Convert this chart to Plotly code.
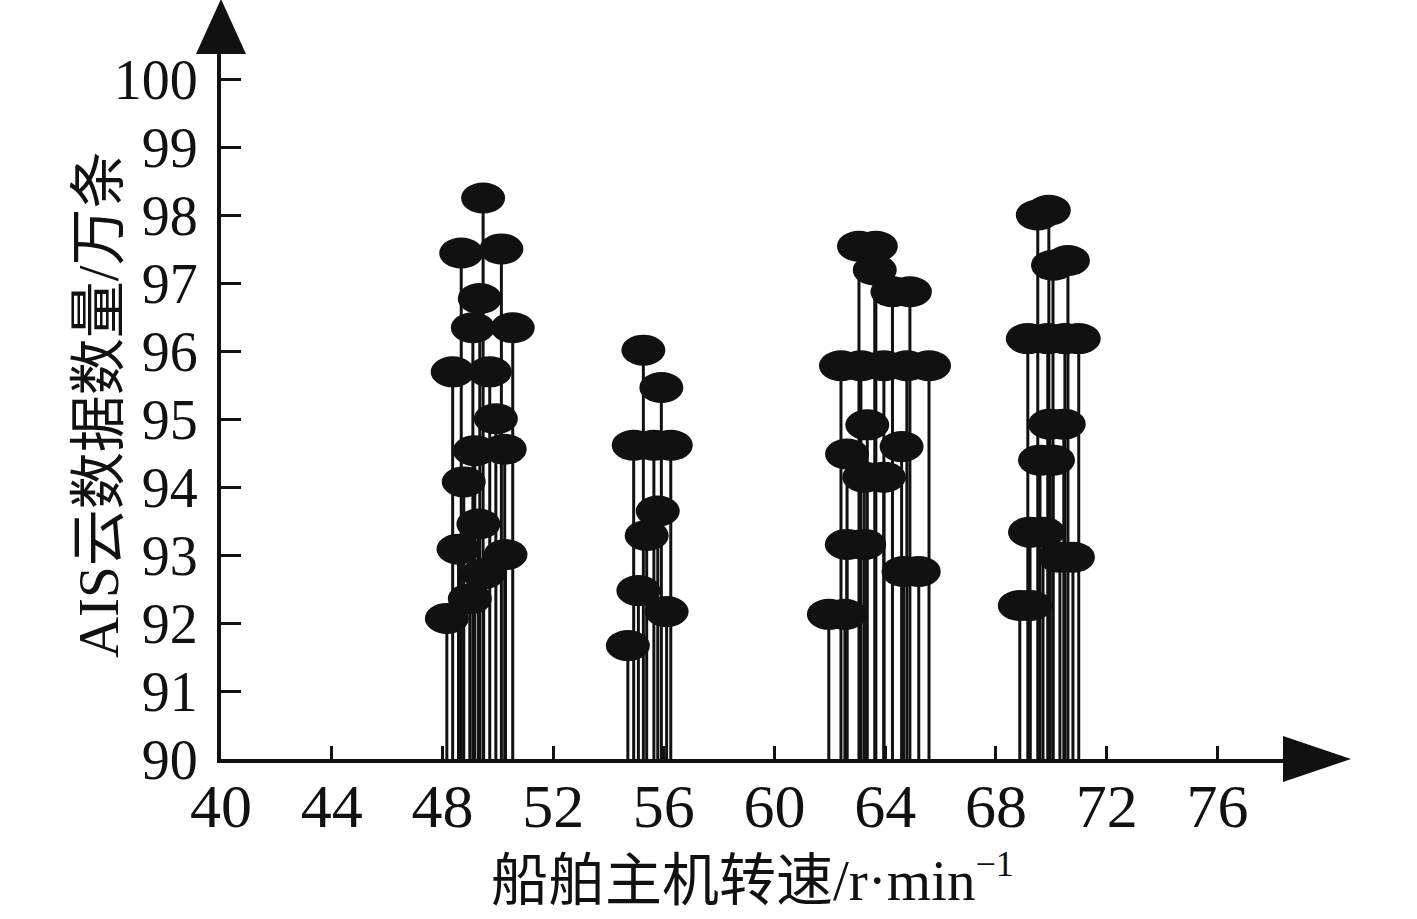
import plotly.graph_objects as go

# main engine speed (r/min) and AIS cloud record count (10k records)
speed_a = [49.47, 48.68, 50.13, 49.35, 49.10, 50.54, 48.37, 49.71, 49.93, 49.17,
           50.25, 48.77, 49.30, 48.58, 50.28, 49.49, 48.99, 48.16]
count_a = [98.26, 97.45, 97.51, 96.78, 96.35, 96.35, 95.70, 95.70, 95.01, 94.54,
           94.56, 94.08, 93.46, 93.09, 93.01, 92.73, 92.36, 92.07]

speed_b = [55.26, 55.91, 54.91, 55.64, 56.25, 55.78, 55.38, 55.08, 56.10, 54.70]
count_b = [96.02, 95.47, 94.62, 94.62, 94.62, 93.65, 93.29, 92.48, 92.17, 91.67]

speed_c = [63.05, 63.66, 63.62, 64.26, 64.89, 62.40, 63.12, 63.95, 64.78, 65.58,
           63.35, 62.62, 64.59, 63.24, 63.95, 62.61, 63.24, 64.66, 65.21, 61.96, 62.54]
count_c = [97.55, 97.55, 97.20, 96.88, 96.88, 95.79, 95.79, 95.79, 95.79, 95.79,
           94.92, 94.49, 94.60, 94.15, 94.15, 93.16, 93.16, 92.76, 92.76, 92.13, 92.13]

speed_d = [69.51, 69.91, 70.06, 70.60, 69.15, 69.87, 70.49, 70.99, 69.95, 70.45,
           69.59, 70.06, 69.23, 69.70, 70.31, 70.78, 68.86, 69.23]
count_d = [98.01, 98.08, 97.27, 97.34, 96.19, 96.19, 96.19, 96.19, 94.93, 94.93,
           94.40, 94.40, 93.34, 93.34, 92.97, 92.97, 92.26, 92.26]

x_ticks = [40, 44, 48, 52, 56, 60, 64, 68, 72, 76]
y_ticks = [90, 91, 92, 93, 94, 95, 96, 97, 98, 99, 100]

speed = speed_a + speed_b + speed_c + speed_d
count = count_a + count_b + count_c + count_d

ink = "#111111"
serif = "Liberation Serif, Noto Sans CJK SC"

fig = go.Figure()

# stems from the x axis up to each point
sx, sy = [], []
for x, y in zip(speed, count):
    sx += [x, x, None]
    sy += [90, y, None]
fig.add_trace(go.Scatter(x=sx, y=sy, mode="lines", line=dict(color=ink, width=3),
                         hoverinfo="skip", showlegend=False))

# elliptical markers, sized in pixels, anchored at the data point
shapes = []
for x, y in zip(speed, count):
    shapes.append(dict(type="circle", xref="x", yref="y",
                       xsizemode="pixel", ysizemode="pixel",
                       xanchor=x, yanchor=y, x0=-22, x1=22, y0=-15.5, y1=15.5,
                       fillcolor=ink, line=dict(width=0)))

# arrow heads at the ends of both axes
shapes.append(dict(type="path", xref="paper", yref="paper",
                   xsizemode="pixel", ysizemode="pixel", xanchor=0, yanchor=1,
                   path="M -25,0 L 25,0 L 0,55 Z", fillcolor=ink, line=dict(width=0)))
shapes.append(dict(type="path", xref="paper", yref="paper",
                   xsizemode="pixel", ysizemode="pixel", xanchor=1, yanchor=0,
                   path="M 0,-23 L 0,23 L 68,0 Z", fillcolor=ink, line=dict(width=0)))

fig.update_xaxes(range=[40, 78.37], tickvals=x_ticks, ticks="inside", ticklen=13, tickwidth=3,
                 tickcolor=ink, showline=True, linewidth=4, linecolor=ink,
                 showgrid=False, zeroline=False, ticklabelstandoff=-10,
                 tickfont=dict(family=serif, size=62, color=ink))
fig.update_yaxes(range=[90, 100.38], tickvals=y_ticks, ticks="inside", ticklen=20, tickwidth=3,
                 tickcolor=ink, showline=True, linewidth=4, linecolor=ink,
                 showgrid=False, zeroline=False, ticklabelstandoff=8,
                 tickfont=dict(family=serif, size=56, color=ink))

fig.update_layout(
    width=1417, height=919,
    margin=dict(l=221, r=134, t=54, b=160),
    plot_bgcolor="white", paper_bgcolor="white",
    shapes=shapes,
    showlegend=False,
    annotations=[
        dict(text="船舶主机转速/r·min<sup><span style='font-size:36px'>−1</span></sup>",
             xref="paper", yref="paper",
             x=0.5, y=0, xanchor="center", yanchor="middle", yshift=-119,
             showarrow=False, font=dict(family=serif, size=57, color=ink)),
        dict(text="AIS云数据数量/万条", xref="paper", yref="paper",
             x=0, y=0.502, xanchor="center", yanchor="middle", xshift=-123,
             textangle=-90, showarrow=False, font=dict(family=serif, size=57, color=ink)),
    ],
)

# page body margin would shift the figure; remove it
fig.write_html("out.html", config={"displayModeBar": False},
               post_script="document.body.style.margin='0';")
